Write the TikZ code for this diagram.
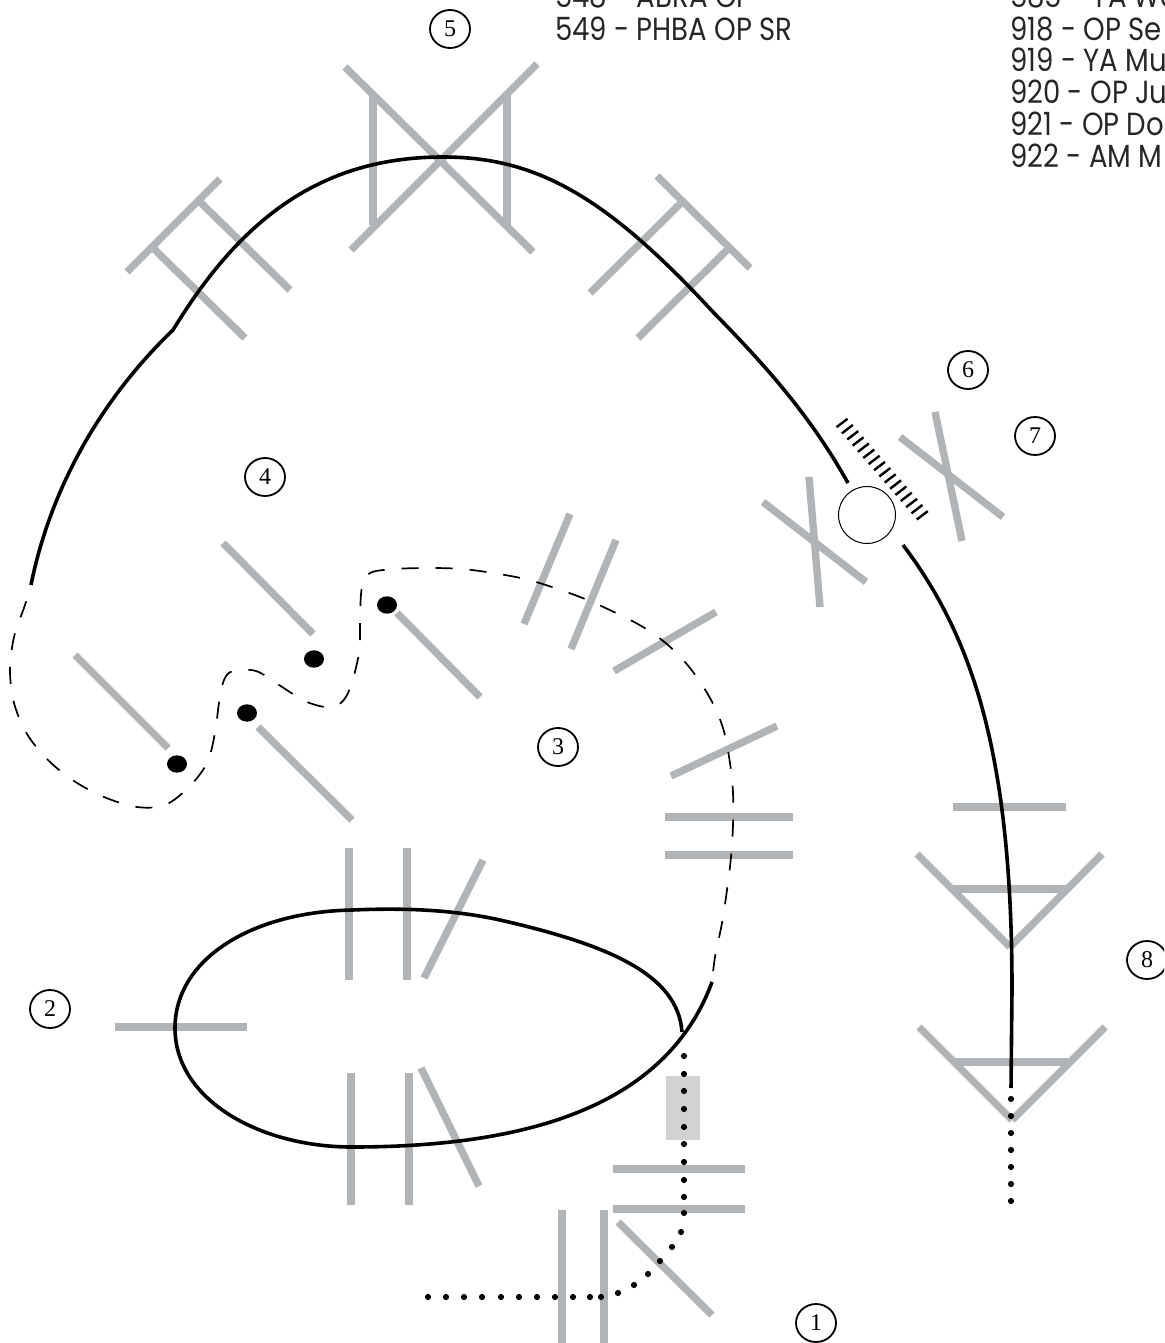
\documentclass[tikz,border=0pt]{standalone}
\usepackage{fontspec}
\usetikzlibrary{shapes.geometric}
\setmainfont{Liberation Serif}
\newfontfamily\lblfont[FakeStretch=0.86]{Poppins}
\definecolor{barg}{HTML}{B1B4B6}
\definecolor{boxg}{HTML}{D1D2D4}
\tikzset{
  bar/.style={draw=barg,line width=7.4pt,line cap=butt},
  route/.style={draw=black,line width=3.6pt,line cap=butt},
  dashroute/.style={draw=black,line width=1.7pt,dash pattern=on 17pt off 17pt,dash phase=17pt},
  stop/.style={ellipse,draw=black,line width=1.8pt,inner sep=0pt,minimum width=40pt,minimum height=38pt,font=\fontsize{24}{24}\selectfont},
  lbl/.style={anchor=base west,inner sep=0pt,font=\lblfont\fontsize{32}{32}\selectfont,text=black!85}
}
\begin{document}
\begin{tikzpicture}[x=1pt,y=-1pt]
\useasboundingbox (0,0) rectangle (1164,1343);
\clip (0,0) rectangle (1164,1343);
% grey box
\fill[boxg] (666,1076) rectangle (700,1140);
% bars
\foreach \xa/\ya/\xb/\yb in {
 345/67/533/252, 537/64/351/250, 373/93/373/225, 507/93/507/225,
 220/179/127/272, 200/202/290/290, 153/248/245/338,
 657/176/750/268, 681/203/590/293, 727/250/638/338,
 935/412/962/541, 900/437/1003/517, 809/477/820/607, 763/502/866/582,
 953/807/1066/807, 953/889/1066/889, 917/854/1010/947, 1102/854/1010/947,
 955/1062/1068/1062, 919/1027/1012/1120, 1105/1027/1012/1120,
 75/655/168/748, 223/543/313/634, 258/727/352/820, 397/613/480/697,
 570/514/524/624, 616/540/571/649, 716/612/614/671, 777/726/671/776,
 665/817/793/817, 665/855/793/855,
 349/848/349/980, 407/848/407/980, 483/860/424/978, 115/1027/247/1027,
 351/1073/351/1205, 409/1073/409/1205, 421/1068/479/1186,
 613/1169/745/1169, 613/1209/745/1209, 562/1210/562/1343, 604/1210/604/1343, 618/1222/712/1315}
 {\draw[bar] (\xa,\ya) -- (\xb,\yb);}
% upper solid route
\draw[route,line join=round] (31,585) .. controls (50,490) and (100,400) .. (173,330)
  .. controls (240,220) and (320,157) .. (443,157)
  .. controls (535,157) and (605,195) .. (713,312)
  .. controls (765,365) and (810,415) .. (848,483);
% right solid route
\draw[route] (903,545) .. controls (975,640) and (1012,760) .. (1012,990) -- (1011,1088);
% dashed route
\draw[dashroute] plot[smooth,tension=0.55] coordinates {(31,585) (25,605) (14,637) (10,670) (14,703) (27,734) (48,760) (74,781) (104,797) (137,807) (165,805) (189,787) (207,763) (215,733) (219,703) (224,680) (233,671) (256,671) (279,685) (307,702) (333,707) (348,693) (359,653) (360,617) (362,587) (370,573) (395,569) (430,568) (462,569) (493,573) (525,579) (555,588) (585,599) (614,612) (643,627) (668,645) (690,668) (710,698) (723,728) (730,763) (733,793) (733,825) (731,857) (727,890) (722,923) (715,957) (712,982)};
% loop
\draw[route] (682,1032) .. controls (678,975) and (610,945) .. (500,920)
  .. controls (450,909) and (400,908) .. (352,910)
  .. controls (250,912) and (175,960) .. (175,1028)
  .. controls (175,1100) and (260,1147) .. (352,1147)
  .. controls (520,1147) and (665,1110) .. (712,982);
% station
\node[circle,draw=black,line width=1pt,inner sep=0pt,minimum size=57pt] (hub) at (867,515) {};
% hatching
\foreach \i in {0,...,15}{
 \pgfmathsetmacro\cx{842+\i*80.3/15}
 \pgfmathsetmacro\cy{423+\i*92.3/15}
 \draw[black,line width=2.4pt] (\cx-5.5,\cy+4.2) -- (\cx+5.5,\cy-4.2);
}
% big dots
\foreach \x/\y in {177/764,247/713,314/659,387/605}{\fill[black] (\x,\y) ellipse (10 and 8.7);}
% small dots
\foreach \x/\y in {1011/1099,1011/1116,1011/1133,1011/1150,1011/1167,1011/1184,1011/1201,
 684/1056,684/1074,684/1091,684/1109,684/1127,684/1144,684/1162,684/1180,684/1197,684/1213,
 681/1232,672/1247,660/1261,648/1274,634/1285,618/1293,601/1297,590/1297,573/1297,555/1297,537/1297,519/1297,501/1297,482/1297,464/1297,446/1297,428/1297}
 {\fill[black] (\x,\y) circle (3.1);}
% numbered circles
\node[stop] (n1) at (816,1323) {1};
\node[stop] (n2) at (50,1009) {2};
\node[stop] (n3) at (558,747) {3};
\node[stop] (n4) at (265,477) {4};
\node[stop] (n5) at (450,29) {5};
\node[stop] (n6) at (968,370) {6};
\node[stop] (n7) at (1035,436) {7};
\node[stop] (n8) at (1147,960) {8};
% text
\node[lbl] (t548) at (555,8) {548 - ABRA OP};
\node[lbl] (t549) at (555,41) {549 - PHBA OP SR};
\node[lbl] (t585) at (1010,8) {585 - YA We};
\node[lbl] (t918) at (1010,41) {918 - OP Se};
\node[lbl] (t919) at (1010,72) {919 - YA Mu};
\node[lbl] (t920) at (1010,104) {920 - OP Ju};
\node[lbl] (t921) at (1010,136) {921 - OP Do};
\node[lbl] (t922) at (1010,168) {922 - AM M};
\end{tikzpicture}
\end{document}
